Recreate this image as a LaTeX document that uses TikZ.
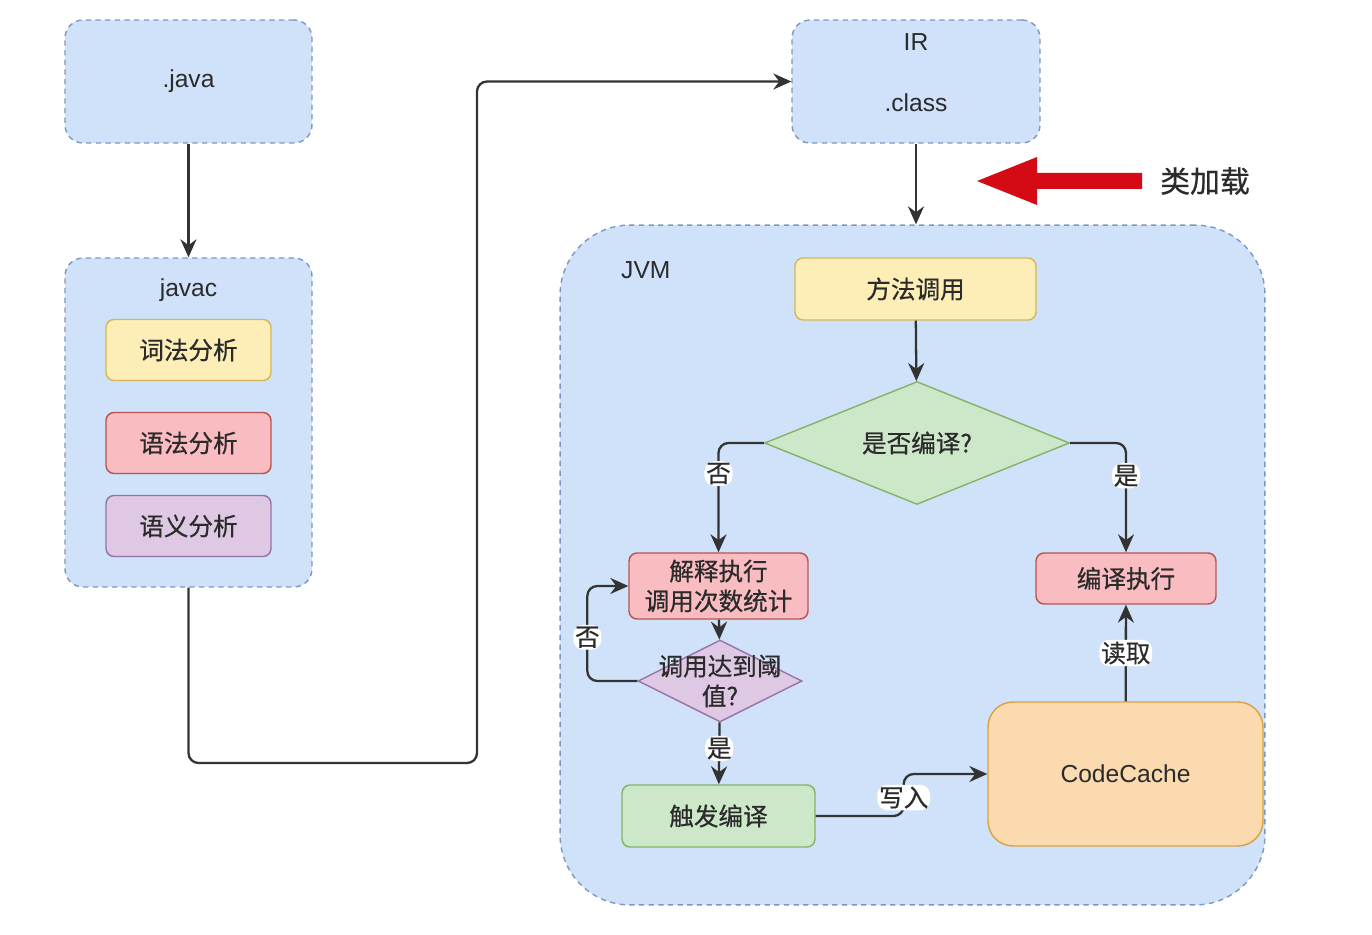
\documentclass[tikz,border=0pt]{standalone}
\usepackage{fontspec}
\setmainfont{Liberation Sans}
\newfontfamily\cjk[FakeBold=0.6]{Noto Sans CJK SC}
\usetikzlibrary{arrows.meta,shapes.geometric}
\definecolor{boxBlue}{HTML}{CFE2FA}
\definecolor{lineBlue}{HTML}{7D97BE}
\definecolor{synYellow}{HTML}{FCEEB6}
\definecolor{synYellowD}{HTML}{D6B656}
\definecolor{synRed}{HTML}{F8BCC1}
\definecolor{synRedD}{HTML}{B85450}
\definecolor{synPurple}{HTML}{DEC8E4}
\definecolor{synPurpleD}{HTML}{9673A6}
\definecolor{synGreen}{HTML}{CDE8C9}
\definecolor{synGreenD}{HTML}{82B366}
\definecolor{cacheOrange}{HTML}{FBDAB0}
\definecolor{cacheOrangeD}{HTML}{D9A23A}
\definecolor{loadRed}{HTML}{D40A14}
\definecolor{textGray}{HTML}{2B2B2B}
\definecolor{lineGray}{HTML}{333333}

\begin{document}
\begin{tikzpicture}[x=0.02cm, y=-0.02cm, font=\fontsize{14}{17}\selectfont, text=textGray,
  grp/.style={draw=lineBlue, dash pattern=on 3pt off 2.5pt, fill=boxBlue, line width=0.8pt, rounded corners=0.36cm},
  stepbox/.style={draw, line width=0.8pt, rounded corners=0.16cm, align=center, font=\fontsize{14}{17}\selectfont\cjk},
  dia/.style={diamond, draw, line width=0.8pt, inner sep=0pt, align=center, font=\fontsize{14}{17}\selectfont\cjk},
  flow/.style={draw=lineGray, line width=1.3pt, rounded corners=0.2cm, -{Stealth[length=0.36cm,width=0.32cm]}},
  lbl/.style={fill=white, inner sep=1pt, font=\fontsize{14}{17}\selectfont\cjk}]
\useasboundingbox (0,0) rectangle (1372,935);

\node[grp, minimum width=4.94cm, minimum height=2.46cm] (java) at (188.5,81.5) {.java};
\node[grp, minimum width=4.94cm, minimum height=6.58cm] (javac) at (188.5,422.5) {};
\node (javaclbl) at (188.5,290) {javac};
\node[stepbox, fill=synYellow, draw=synYellowD, minimum width=3.3cm, minimum height=1.22cm] (lex) at (188.5,350) {词法分析};
\node[stepbox, fill=synRed, draw=synRedD, minimum width=3.3cm, minimum height=1.22cm] (syn) at (188.5,443) {语法分析};
\node[stepbox, fill=synPurple, draw=synPurpleD, minimum width=3.3cm, minimum height=1.22cm] (sem) at (188.5,526) {语义分析};

\node[grp, minimum width=4.96cm, minimum height=2.46cm] (ir) at (916,81.5) {};
\node (irlbl) at (916,42) {IR};
\node (classlbl) at (916,103) {.class};

\node[grp, rounded corners=1.4cm, minimum width=14.1cm, minimum height=13.6cm] (jvm) at (912.5,565) {};
\node[anchor=west] (jvmlbl) at (615,270) {JVM};

\node[stepbox, fill=synYellow, draw=synYellowD, minimum width=4.82cm, minimum height=1.24cm] (call) at (915.5,289) {方法调用};
\node[dia, fill=synGreen, draw=synGreenD, aspect=2.5, minimum width=6.1cm, minimum height=2.46cm] (chk) at (917,443) {是否编译?};
\node[stepbox, fill=synRed, draw=synRedD, minimum width=3.58cm, minimum height=1.32cm] (interp) at (718.5,586) {解释执行\\调用次数统计};
\node[stepbox, fill=synRed, draw=synRedD, minimum width=3.6cm, minimum height=1.02cm] (comp) at (1126,578.5) {编译执行};
\node[dia, fill=synPurple, draw=synPurpleD, minimum width=3.28cm, minimum height=1.64cm,
  label={[align=center, font=\fontsize{14}{17}\selectfont\cjk]center:调用达到阈\\值?}] (thr) at (720,681) {};
\node[stepbox, fill=synGreen, draw=synGreenD, minimum width=3.86cm, minimum height=1.24cm] (trig) at (718.5,816) {触发编译};
\node[stepbox, fill=cacheOrange, draw=cacheOrangeD, rounded corners=0.5cm, font=\fontsize{14}{17}\selectfont,
  minimum width=5.5cm, minimum height=2.88cm] (cache) at (1125.5,774) {CodeCache};

\node[font=\fontsize{17}{20}\selectfont\cjk] (load) at (1205,181) {类加载};
\coordinate (loadtip) at (977,181);
\fill[loadRed] (loadtip) -- ++(60,-24) -- ++(0,16) -- ++(105,0) -- ++(0,16) -- ++(-105,0) -- ++(0,16) -- cycle;

\coordinate (bend) at (477,763);
\draw[flow] (java) -- (javac);
\draw[flow] (javac.south) |- (bend) -- (bend |- ir.west) -- (ir.west);
\draw[flow] (ir.south) -- (ir.south |- jvm.north);
\draw[flow] (call) -- (chk);
\draw[flow] (chk.west) -| (interp.north) node[lbl, pos=0.64] {否};
\draw[flow] (chk.east) -| (comp.north) node[lbl, pos=0.65] {是};
\draw[flow] (interp) -- (thr);
\draw[flow] (thr.west) -- ++(-50,0) |- (interp.west) node[lbl, pos=0.23] {否};
\draw[flow] (thr) -- (trig) node[lbl, pos=0.42] {是};
\draw[flow] (trig.east) -- ++(88,0) |- (cache.west) node[lbl, pos=0.22] {写入};
\draw[flow] (cache) -- (comp) node[lbl, pos=0.5] {读取};
\end{tikzpicture}
\end{document}
